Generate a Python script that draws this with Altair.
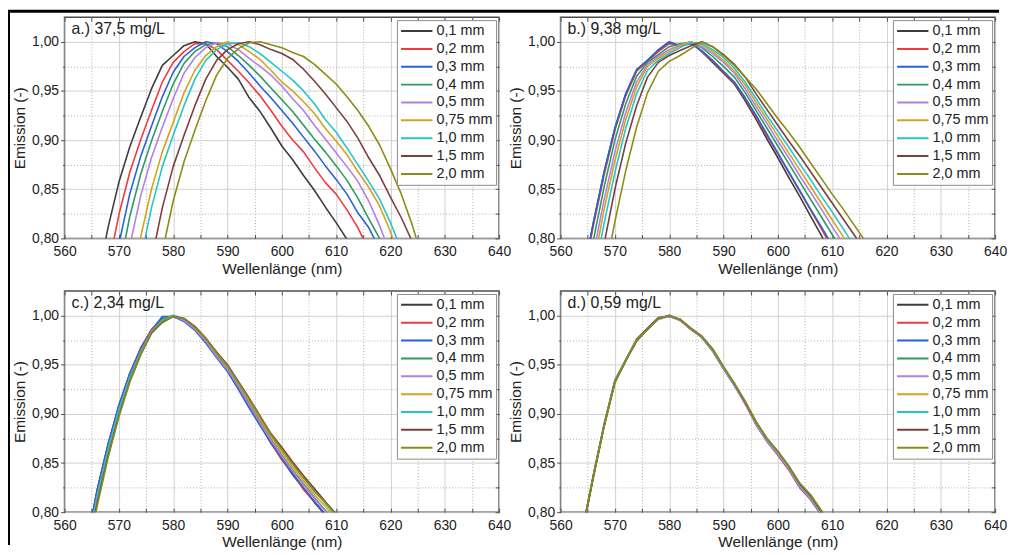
import altair as alt
import pandas as pd

FONT = "Liberation Sans"
THICKNESS = ["0,1 mm", "0,2 mm", "0,3 mm", "0,4 mm", "0,5 mm", "0,75 mm", "1,0 mm", "1,5 mm", "2,0 mm"]
COLORS = ["#3d3d3d", "#ee3b3b", "#2563d9", "#2f9a5c", "#b27fe6", "#d6a21e", "#22c6cc", "#7b3f3f", "#8c8c14"]

# major ticks every 10 nm / 0,05, minor ticks in between
X_TICKS = [560, 565, 570, 575, 580, 585, 590, 595, 600, 605, 610, 615, 620, 625, 630, 635, 640]
Y_TICKS = [0.80, 0.825, 0.85, 0.875, 0.90, 0.925, 0.95, 0.975, 1.00]

LABELS = ["a.) 37,5 mg/L", "b.) 9,38 mg/L", "c.) 2,34 mg/L", "d.) 0,59 mg/L"]

# ---- panel a (37,5 mg/L) ----
WL_A = [566, 568, 570, 572, 574, 576, 578, 580, 582, 584, 586, 588, 590, 592, 594, 596,
        598, 600, 602, 604, 606, 608, 610, 612, 614, 616, 618, 620, 622, 624, 626]
A_T01 = [0.754, 0.811, 0.857, 0.893, 0.923, 0.952, 0.976, 0.986, 0.996, 1.000, 0.998, 0.985, 0.974, 0.962, 0.943, 0.929, 0.912, 0.894, 0.880, 0.864, 0.849, 0.832, 0.816, 0.799, 0.785, None, None, None, None, None, None]
A_T02 = [None, 0.769, 0.824, 0.867, 0.900, 0.930, 0.959, 0.979, 0.990, 0.998, 0.998, 0.992, 0.981, 0.970, 0.958, 0.945, 0.930, 0.914, 0.900, 0.888, 0.872, 0.857, 0.845, 0.829, 0.811, 0.788, None, None, None, None, None]
A_T03 = [None, 0.736, 0.794, 0.845, 0.883, 0.914, 0.944, 0.969, 0.985, 0.994, 1.000, 0.998, 0.990, 0.980, 0.968, 0.955, 0.943, 0.930, 0.917, 0.903, 0.889, 0.874, 0.860, 0.845, 0.826, 0.811, 0.789, None, None, None, None]
A_T04 = [None, None, 0.766, 0.822, 0.865, 0.899, 0.929, 0.957, 0.978, 0.990, 0.997, 0.999, 0.995, 0.986, 0.976, 0.965, 0.953, 0.941, 0.929, 0.915, 0.901, 0.888, 0.874, 0.859, 0.841, 0.820, 0.800, 0.775, None, None, None]
A_T05 = [None, None, 0.733, 0.792, 0.843, 0.882, 0.913, 0.942, 0.968, 0.984, 0.994, 0.999, 0.998, 0.992, 0.983, 0.975, 0.966, 0.955, 0.942, 0.930, 0.915, 0.901, 0.887, 0.873, 0.858, 0.838, 0.813, 0.784, None, None, None]
A_T075 = [None, None, None, 0.743, 0.801, 0.850, 0.888, 0.918, 0.948, 0.971, 0.986, 0.995, 1.000, 0.997, 0.990, 0.982, 0.971, 0.959, 0.950, 0.939, 0.927, 0.912, 0.899, 0.885, 0.868, 0.852, 0.833, 0.807, 0.775, None, None]
A_T10 = [None, None, None, 0.720, 0.778, 0.831, 0.873, 0.905, 0.935, 0.962, 0.981, 0.992, 0.998, 0.999, 0.995, 0.988, 0.979, 0.970, 0.961, 0.950, 0.937, 0.921, 0.908, 0.892, 0.875, 0.858, 0.840, 0.816, 0.789, None, None]
A_T15 = [None, None, None, None, 0.720, 0.778, 0.831, 0.873, 0.905, 0.935, 0.962, 0.981, 0.992, 0.998, 1.000, 0.997, 0.992, 0.988, 0.982, 0.972, 0.960, 0.947, 0.933, 0.919, 0.902, 0.882, 0.864, 0.842, 0.821, 0.797, 0.776]
A_T20 = [None, None, None, None, None, 0.727, 0.786, 0.838, 0.878, 0.910, 0.940, 0.966, 0.983, 0.993, 0.999, 1.000, 0.997, 0.994, 0.989, 0.985, 0.977, 0.967, 0.957, 0.944, 0.930, 0.914, 0.895, 0.871, 0.845, 0.814, 0.777]

# ---- panel b (9,38 mg/L) ----
WL_B = [564, 566, 568, 570, 572, 574, 576, 578, 580, 582, 584, 586, 588, 590, 592, 594,
        596, 598, 600, 602, 604, 606, 608, 610, 612, 614, 616, 618]
B_T01 = [0.757, 0.815, 0.867, 0.912, 0.947, 0.971, 0.981, 0.991, 0.999, 0.996, 0.999, 0.990, 0.979, 0.968, 0.957, 0.940, 0.921, 0.901, 0.882, 0.862, 0.843, 0.823, 0.803, 0.783, None, None, None, None]
B_T02 = [0.754, 0.812, 0.864, 0.910, 0.945, 0.970, 0.980, 0.990, 0.998, 0.997, 1.000, 0.990, 0.980, 0.969, 0.958, 0.942, 0.923, 0.904, 0.886, 0.867, 0.848, 0.829, 0.810, 0.790, None, None, None, None]
B_T03 = [0.757, 0.815, 0.867, 0.912, 0.947, 0.972, 0.981, 0.992, 1.000, 0.996, 0.998, 0.991, 0.981, 0.970, 0.959, 0.943, 0.925, 0.906, 0.887, 0.868, 0.849, 0.830, 0.812, 0.793, None, None, None, None]
B_T04 = [0.738, 0.797, 0.852, 0.900, 0.937, 0.965, 0.979, 0.987, 0.995, 0.998, 0.999, 0.994, 0.985, 0.975, 0.964, 0.948, 0.930, 0.912, 0.894, 0.876, 0.858, 0.840, 0.822, 0.804, 0.786, None, None, None]
B_T05 = [None, 0.783, 0.839, 0.888, 0.928, 0.959, 0.977, 0.985, 0.992, 0.997, 1.000, 0.995, 0.988, 0.979, 0.968, 0.952, 0.934, 0.917, 0.899, 0.882, 0.864, 0.847, 0.830, 0.812, 0.795, None, None, None]
B_T075 = [None, 0.771, 0.829, 0.879, 0.921, 0.954, 0.975, 0.983, 0.990, 0.996, 1.000, 0.997, 0.990, 0.981, 0.970, 0.956, 0.938, 0.921, 0.904, 0.887, 0.870, 0.853, 0.836, 0.819, 0.802, 0.785, None, None]
B_T10 = [None, 0.757, 0.815, 0.867, 0.912, 0.947, 0.971, 0.981, 0.988, 0.994, 0.999, 0.998, 0.992, 0.984, 0.973, 0.959, 0.942, 0.925, 0.909, 0.893, 0.876, 0.860, 0.843, 0.827, 0.810, 0.793, None, None]
B_T15 = [None, 0.735, 0.794, 0.850, 0.897, 0.935, 0.964, 0.979, 0.986, 0.991, 0.996, 1.000, 0.995, 0.987, 0.977, 0.964, 0.947, 0.931, 0.915, 0.899, 0.884, 0.868, 0.852, 0.836, 0.820, 0.804, 0.788, None]
B_T20 = [None, None, 0.760, 0.817, 0.869, 0.913, 0.948, 0.970, 0.980, 0.986, 0.993, 1.000, 0.995, 0.986, 0.976, 0.964, 0.952, 0.937, 0.922, 0.908, 0.893, 0.877, 0.861, 0.845, 0.830, 0.814, 0.798, 0.780]

# ---- panel c (2,34 mg/L) ----
WL_C = [564, 566, 568, 570, 572, 574, 576, 578, 580, 582, 584, 586, 588, 590, 592, 594,
        596, 598, 600, 602, 604, 606, 608, 610]
C_T01 = [0.765, 0.822, 0.868, 0.907, 0.940, 0.966, 0.985, 0.997, 0.999, 0.995, 0.986, 0.973, 0.958, 0.944, 0.926, 0.908, 0.889, 0.870, 0.854, 0.838, 0.824, 0.810, 0.797, 0.784]
C_T02 = [0.764, 0.822, 0.869, 0.908, 0.941, 0.967, 0.986, 0.996, 1.000, 0.995, 0.986, 0.974, 0.958, 0.944, 0.927, 0.909, 0.890, 0.871, 0.853, 0.840, 0.823, 0.811, 0.797, 0.784]
C_T03 = [0.766, 0.823, 0.869, 0.909, 0.941, 0.966, 0.985, 0.999, 0.999, 0.994, 0.985, 0.972, 0.957, 0.943, 0.925, 0.906, 0.888, 0.871, 0.855, 0.839, 0.825, 0.811, 0.798, 0.785]
C_T04 = [0.760, 0.818, 0.865, 0.905, 0.938, 0.964, 0.984, 0.996, 1.000, 0.996, 0.987, 0.975, 0.960, 0.946, 0.929, 0.911, 0.893, 0.874, 0.858, 0.843, 0.829, 0.815, 0.802, 0.789]
C_T05 = [0.758, 0.816, 0.863, 0.904, 0.937, 0.963, 0.984, 0.995, 0.999, 0.995, 0.986, 0.974, 0.958, 0.945, 0.928, 0.909, 0.891, 0.873, 0.857, 0.842, 0.828, 0.814, 0.801, 0.788]
C_T075 = [0.752, 0.811, 0.859, 0.900, 0.934, 0.961, 0.982, 0.994, 1.000, 0.997, 0.988, 0.976, 0.961, 0.948, 0.931, 0.913, 0.895, 0.877, 0.861, 0.846, 0.832, 0.818, 0.806, 0.793]
C_T10 = [0.755, 0.814, 0.862, 0.903, 0.936, 0.962, 0.983, 0.995, 1.000, 0.997, 0.988, 0.977, 0.962, 0.949, 0.932, 0.915, 0.897, 0.879, 0.864, 0.849, 0.835, 0.822, 0.809, 0.796]
C_T15 = [0.750, 0.809, 0.857, 0.898, 0.933, 0.960, 0.982, 0.993, 0.999, 0.997, 0.989, 0.977, 0.963, 0.950, 0.933, 0.916, 0.898, 0.880, 0.866, 0.851, 0.837, 0.824, 0.811, 0.798]
C_T20 = [0.747, 0.806, 0.855, 0.897, 0.932, 0.960, 0.983, 0.994, 0.999, 0.997, 0.988, 0.977, 0.962, 0.949, 0.932, 0.915, 0.897, 0.879, 0.864, 0.849, 0.835, 0.821, 0.810, 0.797]

# ---- panel d (0,59 mg/L) ----
WL_D = [564, 566, 568, 570, 572, 574, 576, 578, 580, 582, 584, 586, 588, 590, 592, 594,
        596, 598, 600, 602, 604, 606, 608, 610]
D_T01 = [0.781, 0.837, 0.889, 0.934, 0.955, 0.976, 0.987, 0.998, 0.999, 0.996, 0.986, 0.978, 0.964, 0.946, 0.929, 0.911, 0.889, 0.872, 0.859, 0.844, 0.826, 0.814, 0.798, 0.784]
D_T02 = [0.780, 0.836, 0.888, 0.933, 0.955, 0.975, 0.986, 0.997, 1.000, 0.995, 0.986, 0.978, 0.964, 0.946, 0.929, 0.910, 0.889, 0.872, 0.858, 0.843, 0.825, 0.813, 0.797, 0.783]
D_T03 = [0.781, 0.836, 0.888, 0.933, 0.955, 0.975, 0.986, 0.997, 1.000, 0.996, 0.987, 0.978, 0.964, 0.946, 0.929, 0.911, 0.890, 0.873, 0.859, 0.844, 0.826, 0.814, 0.798, 0.784]
D_T04 = [0.780, 0.836, 0.888, 0.933, 0.955, 0.975, 0.986, 0.997, 1.000, 0.996, 0.986, 0.978, 0.965, 0.947, 0.930, 0.911, 0.890, 0.873, 0.860, 0.845, 0.827, 0.815, 0.799, 0.785]
D_T05 = [0.780, 0.835, 0.887, 0.932, 0.954, 0.975, 0.986, 0.996, 0.999, 0.995, 0.986, 0.978, 0.964, 0.946, 0.929, 0.910, 0.889, 0.872, 0.859, 0.844, 0.826, 0.814, 0.798, 0.784]
D_T075 = [0.779, 0.835, 0.887, 0.932, 0.955, 0.975, 0.986, 0.997, 1.000, 0.996, 0.987, 0.979, 0.965, 0.947, 0.930, 0.912, 0.891, 0.874, 0.861, 0.846, 0.828, 0.816, 0.800, 0.786]
D_T10 = [0.780, 0.835, 0.888, 0.933, 0.955, 0.975, 0.986, 0.997, 1.000, 0.996, 0.987, 0.979, 0.965, 0.947, 0.930, 0.912, 0.891, 0.874, 0.861, 0.846, 0.828, 0.816, 0.800, 0.786]
D_T15 = [0.779, 0.835, 0.887, 0.932, 0.954, 0.974, 0.986, 0.997, 1.000, 0.996, 0.987, 0.979, 0.966, 0.948, 0.931, 0.912, 0.892, 0.875, 0.862, 0.847, 0.829, 0.817, 0.801, 0.787]
D_T20 = [0.779, 0.835, 0.887, 0.932, 0.954, 0.975, 0.986, 0.997, 1.000, 0.996, 0.987, 0.979, 0.966, 0.948, 0.931, 0.913, 0.892, 0.875, 0.862, 0.847, 0.830, 0.818, 0.802, 0.788]

W, H = 438, 223
FRAME = "#4d4d4d"
TICK_IN = 4

XS = alt.Scale(domain=[560, 640], nice=False)
YS = alt.Scale(domain=[0.8, 1.025], nice=False, zero=False)

X_MINOR_TEST = "datum.value % 10 != 0"
Y_MINOR_TEST = "round(datum.value * 40) % 2 == 1"


def minor_cond(test, minor, major):
    return {"condition": {"test": test, "value": minor}, "value": major}


# bottom axis: ticks pointing into the plot (axis moved inside by TICK_IN)
X_AXIS = alt.Axis(
    values=X_TICKS, title="Wellenlänge (nm)", format="d", labelOverlap=False,
    labelFlush=False, offset=-TICK_IN, tickSize=TICK_IN, labelPadding=6,
    labelExpr="datum.value % 10 == 0 ? datum.label : ''",
    gridDash=minor_cond(X_MINOR_TEST, [1, 2], []),
    gridColor=minor_cond(X_MINOR_TEST, "#b0b0b0", "#d0d0d0"),
)
Y_AXIS = alt.Axis(
    values=Y_TICKS, title="Emission (-)", labelOverlap=False, labelPadding=2,
    labelExpr="round(datum.value * 40) % 2 == 0 ? replace(format(datum.value, '.2f'), '.', ',') : ''",
    gridDash=minor_cond(Y_MINOR_TEST, [1, 2], []),
    gridColor=minor_cond(Y_MINOR_TEST, "#b0b0b0", "#d0d0d0"),
    tickSize=minor_cond(Y_MINOR_TEST, 2, 4),
)
# mirrored tick-only axes on top and right, ticks pointing inwards
X_TOP = alt.Axis(orient="top", values=X_TICKS, labels=False, title=None, grid=False,
                 domain=False, offset=-TICK_IN, tickSize=TICK_IN)
Y_RIGHT = alt.Axis(orient="right", values=Y_TICKS, labels=False, title=None, grid=False,
                   domain=False, offset=-TICK_IN, tickSize=TICK_IN)


def panel(wl, series, label, border=False):
    rows = [{"wl": x, "em": y, "d": name}
            for name, ys in zip(THICKNESS, series)
            for x, y in zip(wl, ys) if y is not None]
    df = pd.DataFrame(rows)

    lines = alt.Chart(df).mark_line(clip=True, strokeWidth=1.6, strokeJoin="round").encode(
        x=alt.X("wl:Q", scale=XS, axis=X_AXIS),
        y=alt.Y("em:Q", scale=YS, axis=Y_AXIS),
        color=alt.Color("d:N", scale=alt.Scale(domain=THICKNESS, range=COLORS),
                        legend=alt.Legend(title=None, orient="top-right", offset=3,
                                          symbolType="stroke", symbolSize=1000,
                                          symbolStrokeWidth=2, clipHeight=16,
                                          rowPadding=2, padding=3, labelOffset=3,
                                          labelFont=FONT, labelFontSize=14.5,
                                          labelColor="#222222", strokeColor="#8a8a8a",
                                          fillColor="white")),
    )
    mirror = alt.Chart(df).mark_line(opacity=0).encode(
        x=alt.X("wl:Q", scale=XS, axis=X_TOP),
        y=alt.Y("em:Q", scale=YS, axis=Y_RIGHT),
    )
    base = alt.layer(lines, mirror).resolve_axis(x="independent", y="independent")

    text = alt.Chart(pd.DataFrame({"t": [label]})).mark_text(
        align="left", baseline="alphabetic", font=FONT, fontSize=16, color="#222222"
    ).encode(text="t:N", x=alt.value(7), y=alt.value(17))

    layers = [base, text]
    if border:
        edge = pd.DataFrame({"k": ["edge"]})
        left_edge = alt.Chart(edge).mark_rule(color="black", strokeWidth=3).encode(
            x=alt.value(-56.5), y=alt.value(-6), y2=alt.value(532))
        top_edge = alt.Chart(edge).mark_rule(color="black", strokeWidth=3).encode(
            y=alt.value(-6), x=alt.value(-58), x2=alt.value(942))
        layers += [left_edge, top_edge]
    return alt.layer(*layers).properties(width=W, height=H)


pa = panel(WL_A, [A_T01, A_T02, A_T03, A_T04, A_T05, A_T075, A_T10, A_T15, A_T20], LABELS[0], border=True)
pb = panel(WL_B, [B_T01, B_T02, B_T03, B_T04, B_T05, B_T075, B_T10, B_T15, B_T20], LABELS[1])
pc = panel(WL_C, [C_T01, C_T02, C_T03, C_T04, C_T05, C_T075, C_T10, C_T15, C_T20], LABELS[2])
pd_ = panel(WL_D, [D_T01, D_T02, D_T03, D_T04, D_T05, D_T075, D_T10, D_T15, D_T20], LABELS[3])

chart = alt.concat(
    pa, pb, pc, pd_, columns=2, spacing={"row": 53, "column": 62}, bounds="flush"
).resolve_scale(
    color="independent"
).properties(
    padding={"left": -4, "top": -2, "right": 0, "bottom": 0},
    background="white",
).configure_view(
    stroke=FRAME, strokeWidth=1.5
).configure_axis(
    labelFont=FONT, titleFont=FONT, labelFontSize=14, titleFontSize=15.5,
    labelColor="#222222", titleColor="#222222", titleFontWeight="normal",
    domain=False, tickColor=FRAME, gridWidth=1,
).configure_axisX(titlePadding=3).configure_axisY(titlePadding=4)

chart.save("out.html", embed_options={"renderer": "svg", "actions": False})
